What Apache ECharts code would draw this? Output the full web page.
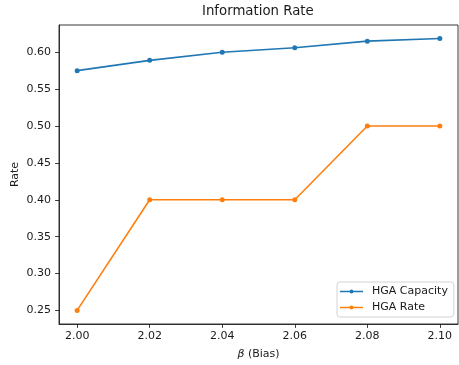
<!DOCTYPE html>
<html>
<head>
<meta charset="utf-8">
<script src="https://cdn.jsdelivr.net/npm/echarts@6/dist/echarts.min.js"></script>
<style>html,body{margin:0;padding:0;background:#fff;}#c{width:459px;height:365px;}</style>
</head>
<body>
<div id="c"></div>
<script>
const betaValues = [2.00, 2.02, 2.04, 2.06, 2.08, 2.10];
const capacityValues = [0.575, 0.589, 0.600, 0.606, 0.615, 0.6185];
const rateValues = [0.25, 0.40, 0.40, 0.40, 0.50, 0.50];
const xTicks = [2.00, 2.02, 2.04, 2.06, 2.08, 2.10];
const yTicks = [0.25, 0.30, 0.35, 0.40, 0.45, 0.50, 0.55, 0.60];

const FONT = 'DejaVu Sans';
const TXT = '#1a1a1a';
const AX = '#222';
const legendIcon = 'path://M0,1.65 L23,1.65 L23,3.35 L0,3.35 Z M9.5,2.5 A2,2 0 1,1 13.5,2.5 A2,2 0 1,1 9.5,2.5 Z M0,0 L0.01,0 L0.01,0.01 Z M0,5 L0.01,5 L0.01,4.99 Z';
const chart = echarts.init(document.getElementById('c'));
chart.setOption({
  animation: false,
  backgroundColor: '#fff',
  textStyle: {fontFamily: FONT},
  title: {
    text: 'Information Rate', left: 202, top: 5, padding: 0,
    textStyle: {fontFamily: FONT, fontSize: 13.3, fontWeight: 'normal', color: TXT}
  },
  grid: {left: 59, right: 1, top: 25, bottom: 41, containLabel: false, outerBoundsMode: 'none', show: true, borderColor: AX, borderWidth: 0.9, backgroundColor: 'transparent'},
  legend: {
    orient: 'vertical', left: 337, top: 282,
    padding: [4, 6, 4, 3], itemWidth: 23, itemHeight: 5, itemGap: 5,
    backgroundColor: '#fff', borderColor: '#d3d3d3', borderWidth: 1, borderRadius: 3,
    icon: legendIcon,
    textStyle: {fontFamily: FONT, fontSize: 11, color: TXT, padding: [0, 0, 0, 4]},
    data: ['HGA Capacity', 'HGA Rate']
  },
  xAxis: {
    type: 'value', min: 1.995, max: 2.105,
    name: '{i|β} (Bias)', nameLocation: 'middle', nameGap: 25, nameMoveOverlap: false,
    nameTextStyle: {fontFamily: FONT, fontSize: 11, color: TXT, rich: {i: {fontFamily: FONT, fontStyle: 'italic', fontSize: 11, color: TXT}}},
    splitLine: {show: false},
    axisLine: {show: true, onZero: false, lineStyle: {color: AX, width: 0.9}},
    axisTick: {show: true, length: 3.9, customValues: xTicks, lineStyle: {color: AX, width: 0.9}},
    axisLabel: {customValues: xTicks, margin: 7, fontSize: 11, fontFamily: FONT, color: TXT, formatter: v => v.toFixed(2)}
  },
  yAxis: {
    type: 'value', min: 0.2316, max: 0.6369,
    name: 'Rate', nameLocation: 'middle', nameGap: 38, nameRotate: 90, nameMoveOverlap: false,
    nameTextStyle: {fontFamily: FONT, fontSize: 11, color: TXT},
    splitLine: {show: false},
    axisLine: {show: true, onZero: false, lineStyle: {color: AX, width: 0.9}},
    axisTick: {show: true, length: 3.9, customValues: yTicks, lineStyle: {color: AX, width: 0.9}},
    axisLabel: {customValues: yTicks, margin: 8, fontSize: 11, fontFamily: FONT, color: TXT, formatter: v => v.toFixed(2)}
  },
  series: [
    {
      name: 'HGA Capacity', type: 'line', color: '#1f77b4',
      data: betaValues.map((b, i) => [b, capacityValues[i]]),
      symbol: 'circle', symbolSize: 5, lineStyle: {width: 1.6}, itemStyle: {color: '#1f77b4'}
    },
    {
      name: 'HGA Rate', type: 'line', color: '#ff7f0e',
      data: betaValues.map((b, i) => [b, rateValues[i]]),
      symbol: 'circle', symbolSize: 5, lineStyle: {width: 1.6}, itemStyle: {color: '#ff7f0e'}
    }
  ]
});
</script>
</body>
</html>
